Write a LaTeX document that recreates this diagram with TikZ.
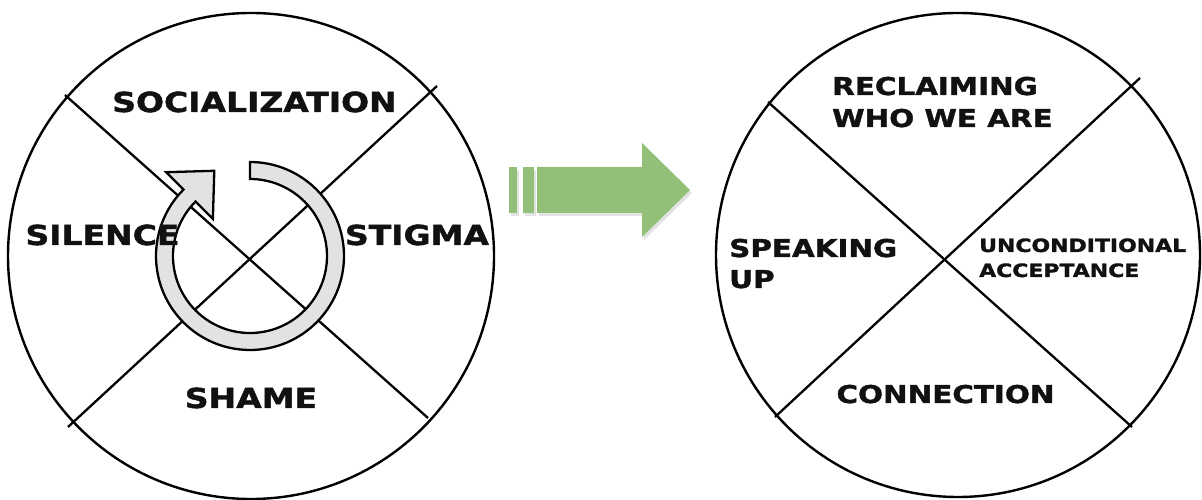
\documentclass[tikz,border=0pt]{standalone}
\usepackage{fontspec}
\newfontfamily\labelfont[FakeStretch=1.2,FakeBold=1.6]{DejaVu Sans Bold}
\usetikzlibrary{calc}
\definecolor{arrowgreen}{RGB}{146,192,120}
\definecolor{ringgray}{RGB}{226,226,226}
\definecolor{ink}{RGB}{17,17,17}
\begin{document}
\begin{tikzpicture}[x=1pt,y=1pt,
  wheel/.style={draw=black,line width=2.4pt},
  divider/.style={draw=black,line width=2.3pt},
  biglabel/.style={inner sep=0pt,text=ink,font=\labelfont\fontsize{27.5}{32}\selectfont},
  midlabel/.style={inner sep=0pt,text=ink,font=\labelfont\fontsize{24.5}{31}\selectfont},
  smalllabel/.style={inner sep=0pt,text=ink,font=\labelfont\fontsize{18.3}{25}\selectfont},
  ringstyle/.style={draw=black,line width=2.3pt,fill=ringgray,line join=miter}]
\useasboundingbox (0,0) rectangle (1202,500);
\fill[white] (0,0) rectangle (1202,500);

% ---- left wheel: the cycle ----
\node[wheel,circle,minimum size=486pt,inner sep=0pt] (leftwheel) at (251,244) {};
\coordinate (l1a) at (65,405);  \coordinate (l1b) at (428,82);
\coordinate (l2a) at (437,414); \coordinate (l2b) at (68,73);
\draw[divider] (l1a) -- (l1b);
\draw[divider] (l2a) -- (l2b);

% circular arrow around the centre
\coordinate (rc) at (250,244);
\draw[ringstyle]
  ($(rc)+(90:94)$) arc[start angle=90,end angle=-225,radius=94]
  -- ($(rc)+(135:118.5)$)
  -- ($(rc)+(135:85.5)+(45:35)$)
  -- ($(rc)+(135:52.5)$)
  -- ($(rc)+(135:77)$)
  arc[start angle=-225,end angle=90,radius=77]
  -- cycle;

\node[biglabel,anchor=base] (socialization) at (254.5,388) {SOCIALIZATION};
\node[biglabel,anchor=base] (silence) at (102.5,255) {SILENCE};
\node[biglabel,anchor=base] (stigma) at (417,255) {STIGMA};
\node[biglabel,anchor=base] (shame) at (251,92) {SHAME};

% ---- transition arrow ----
\begin{scope}[shift={(2,-3)}]
  \fill[black!25,opacity=0.45] (509,287) rectangle (517,333);
  \fill[black!25,opacity=0.45] (523,287) rectangle (534,333);
  \fill[black!25,opacity=0.45] (537,287) -- (642,287) -- (642,263) -- (690,310)
    -- (642,357) -- (642,333) -- (537,333) -- cycle;
\end{scope}
\fill[arrowgreen] (509,287) rectangle (517,333);
\fill[arrowgreen] (523,287) rectangle (534,333);
\fill[arrowgreen] (537,287) -- (642,287) -- (642,263) -- (690,310)
  -- (642,357) -- (642,333) -- (537,333) -- cycle;

% ---- right wheel: the way out ----
\node[wheel,circle,minimum size=484pt,inner sep=0pt] (rightwheel) at (958,245) {};
\coordinate (r1a) at (768,398);  \coordinate (r1b) at (1132,73);
\coordinate (r2a) at (1140,422); \coordinate (r2b) at (775,83);
\draw[divider] (r1a) -- (r1b);
\draw[divider] (r2a) -- (r2b);

\node[midlabel,anchor=base west] (reclaiming) at (832,405) {RECLAIMING};
\node[midlabel,anchor=base west] (whoweare) at (832,373) {WHO WE ARE};
\node[midlabel,anchor=base west] (speaking) at (729,243) {SPEAKING};
\node[midlabel,anchor=base west] (up) at (729,212) {UP};
\node[smalllabel,anchor=base west] (unconditional) at (979,248) {UNCONDITIONAL};
\node[smalllabel,anchor=base west] (acceptance) at (979,223) {ACCEPTANCE};
\node[midlabel,anchor=base] (connection) at (945.5,97) {CONNECTION};
\end{tikzpicture}
\end{document}
